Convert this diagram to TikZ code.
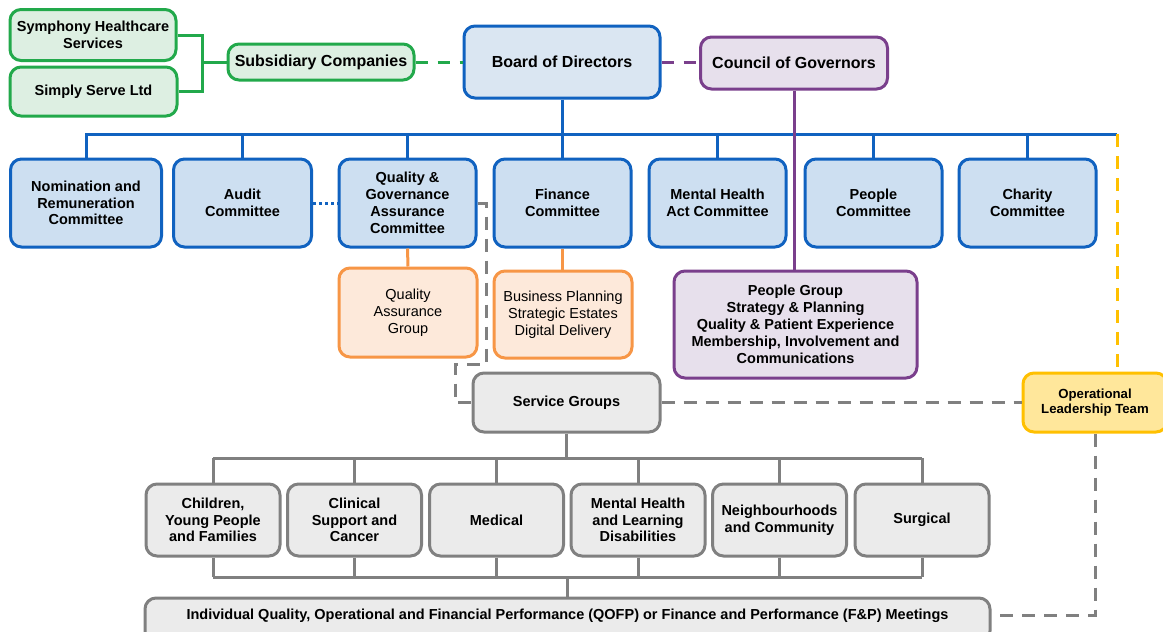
\documentclass[tikz,border=0pt]{standalone}
\usepackage{fontspec}
\setmainfont{Liberation Sans}
\definecolor{gline}{HTML}{22A94B}
\definecolor{gfill}{HTML}{DDEFE2}
\definecolor{bline}{HTML}{1062C0}
\definecolor{bfill}{HTML}{CDDFF1}
\definecolor{bfillb}{HTML}{DAE6F2}
\definecolor{pline}{HTML}{7A3F8C}
\definecolor{pfill}{HTML}{E7E0EC}
\definecolor{oline}{HTML}{F79646}
\definecolor{ofill}{HTML}{FDE9DA}
\definecolor{kline}{HTML}{808080}
\definecolor{kfill}{HTML}{EBEBEB}
\definecolor{yline}{HTML}{FFC000}
\definecolor{yfill}{HTML}{FFE79B}
\tikzset{
  box/.style={draw, rounded corners=11pt, line width=3pt, inner sep=2pt, align=center},
  fbig/.style={font=\fontsize{16}{18}\selectfont\bfseries},
  fmid/.style={font=\fontsize{14.5}{16.8}\selectfont\bfseries},
  freg/.style={font=\fontsize{14.5}{16.8}\selectfont},
  fsml/.style={font=\fontsize{13.2}{15.5}\selectfont\bfseries},
  greenbox/.style={box, draw=gline, fill=gfill},
  bluebox/.style={box, draw=bline, fill=bfill, minimum width=137pt, minimum height=88pt, fmid},
  purplebox/.style={box, draw=pline, fill=pfill},
  orangebox/.style={box, draw=oline, fill=ofill, freg},
  graybox/.style={box, draw=kline, fill=kfill, fmid},
  yellowbox/.style={box, draw=yline, fill=yfill, fsml},
  svcbox/.style={graybox, minimum width=134pt, minimum height=72pt},
  gconn/.style={draw=gline, line width=3pt},
  bconn/.style={draw=bline, line width=3pt},
  pconn/.style={draw=pline, line width=3pt},
  oconn/.style={draw=oline, line width=3pt},
  kconn/.style={draw=kline, line width=3pt},
  kdash/.style={draw=kline, line width=3pt, dash pattern=on 13pt off 9pt},
  gdashed/.style={draw=gline, line width=3pt, dash pattern=on 12pt off 10pt},
  pdashed/.style={draw=pline, line width=3pt, dash pattern=on 12pt off 10pt},
  ydashed/.style={draw=yline, line width=3pt, dash pattern=on 13pt off 9pt},
  bdotted/.style={draw=bline, line width=3pt, dash pattern=on 3pt off 3pt},
}
\begin{document}
\begin{tikzpicture}[x=1pt,y=-1pt]
\useasboundingbox (0,0) rectangle (1163,632);
\fill[white] (0,0) rectangle (1163,632);
\clip (0,0) rectangle (1163,632);

% top row
\node[greenbox, fmid, minimum width=166pt, minimum height=51pt] (sym) at (93,35) {Symphony Healthcare\\Services};
\node[greenbox, fmid, minimum width=167pt, minimum height=49pt] (simp) at (93.5,91.5) {Simply Serve Ltd};
\node[greenbox, fbig, minimum width=186pt, minimum height=36pt] (sub) at (321,62) {Subsidiary Companies};
\node[box, draw=bline, fill=bfillb, fbig, minimum width=196pt, minimum height=72pt] (board) at (562,62) {Board of Directors};
\node[purplebox, fbig, minimum width=187pt, minimum height=52pt] (council) at (794,63) {Council of Governors};

% committees
\node[bluebox, minimum width=151pt] (nom) at (86,203) {Nomination and\\Remuneration\\Committee};
\node[bluebox, minimum width=138pt] (audit) at (242.5,203) {Audit\\Committee};
\node[bluebox] (qga) at (407.5,203) {Quality \&\\Governance\\Assurance\\Committee};
\node[bluebox] (fin) at (562.5,203) {Finance\\Committee};
\node[bluebox] (mha) at (717.5,203) {Mental Health\\Act Committee};
\node[bluebox] (peo) at (873.5,203) {People\\Committee};
\node[bluebox] (cha) at (1027.5,203) {Charity\\Committee};

% second level groups
\node[orangebox, minimum width=138pt, minimum height=89pt] (qag) at (408,312.5) {Quality\\Assurance\\Group};
\node[orangebox, minimum width=138pt, minimum height=87pt] (bp) at (563,314.5) {Business Planning\\Strategic Estates\\Digital Delivery};
\node[purplebox, minimum width=243pt, minimum height=107pt, font=\fontsize{14.5}{17}\selectfont\bfseries] (pg) at (795.5,324.5) {People Group\\Strategy \& Planning\\Quality \& Patient Experience\\Membership, Involvement and\\Communications};

\node[graybox, minimum width=187pt, minimum height=59pt] (sg) at (566.5,402.5) {Service Groups};
\node[yellowbox, minimum width=144pt, minimum height=59pt] (olt) at (1095,402.5) {Operational\\Leadership Team};

% service groups
\node[svcbox] (s1) at (213,520) {Children,\\Young People\\and Families};
\node[svcbox] (s2) at (354.5,520) {Clinical\\Support and\\Cancer};
\node[svcbox] (s3) at (496.5,520) {Medical};
\node[svcbox] (s4) at (638,520) {Mental Health\\and Learning\\Disabilities};
\node[svcbox] (s5) at (779.5,520) {Neighbourhoods\\and Community};
\node[svcbox] (s6) at (922,520) {Surgical};

\node[graybox, minimum width=845pt, minimum height=44pt, text depth=12pt] (qofp) at (567.5,620) {Individual Quality, Operational and Financial Performance (QOFP) or Finance and Performance (F\&P) Meetings};

% coordinates
\coordinate (gj) at (202,62);
\coordinate (busL) at (86,134);
\coordinate (busR) at (1117,134);
\coordinate (d1) at (486,364);
\coordinate (d2) at (455,364);
\coordinate (sbusL) at (213,458);
\coordinate (sbusR) at (922,458);
\coordinate (bbusL) at (213,577);
\coordinate (bbusR) at (922,577);
\coordinate (oltc) at (1095,615);

% green connectors
\path[gconn] (sym.east) -| (gj) |- (simp.east);
\path[gconn] (gj) -- (sub.west);
\path[gdashed] (sub.east) -- (board.west);
\path[pdashed] (board.east) -- (board.east -| council.west);

% blue bus
\path[bconn] (board.south) -- (board.south |- busL);
\path[bconn] (nom.north) -- (busL) -- (busR);
\foreach \c in {audit,qga,fin,mha,peo,cha}{
  \path[bconn] (\c.north) -- (\c.north |- busL);
}
\path[bdotted] (audit.east) -- (qga.west);

% orange
\path[oconn] (qga.south) -- (qag.north);
\path[oconn] (fin.south) -- (fin.south |- bp.north);

% purple
\path[pconn] (council.south) -- (council.south |- pg.north);

% gray dashed
\path[kdash] (qga.east) -| (d1) -- (d2) |- (sg.west);
\path[kdash] (sg.east) -- (olt.west);
\path[ydashed] (busR) -- (busR |- olt.north);
\path[kdash] (olt.south) -- (oltc) -- (oltc -| qofp.east);

% service bus
\path[kconn] (sg.south) -- (sg.south |- sbusL);
\path[kconn] (sbusL) -- (sbusR);
\path[kconn] (bbusL) -- (bbusR);
\foreach \s in {s1,s2,s3,s4,s5,s6}{
  \path[kconn] (\s.north) -- (\s.north |- sbusL);
  \path[kconn] (\s.south) -- (\s.south |- bbusL);
}
\path[kconn] (qofp.north) -- (qofp.north |- bbusL);
\end{tikzpicture}
\end{document}
